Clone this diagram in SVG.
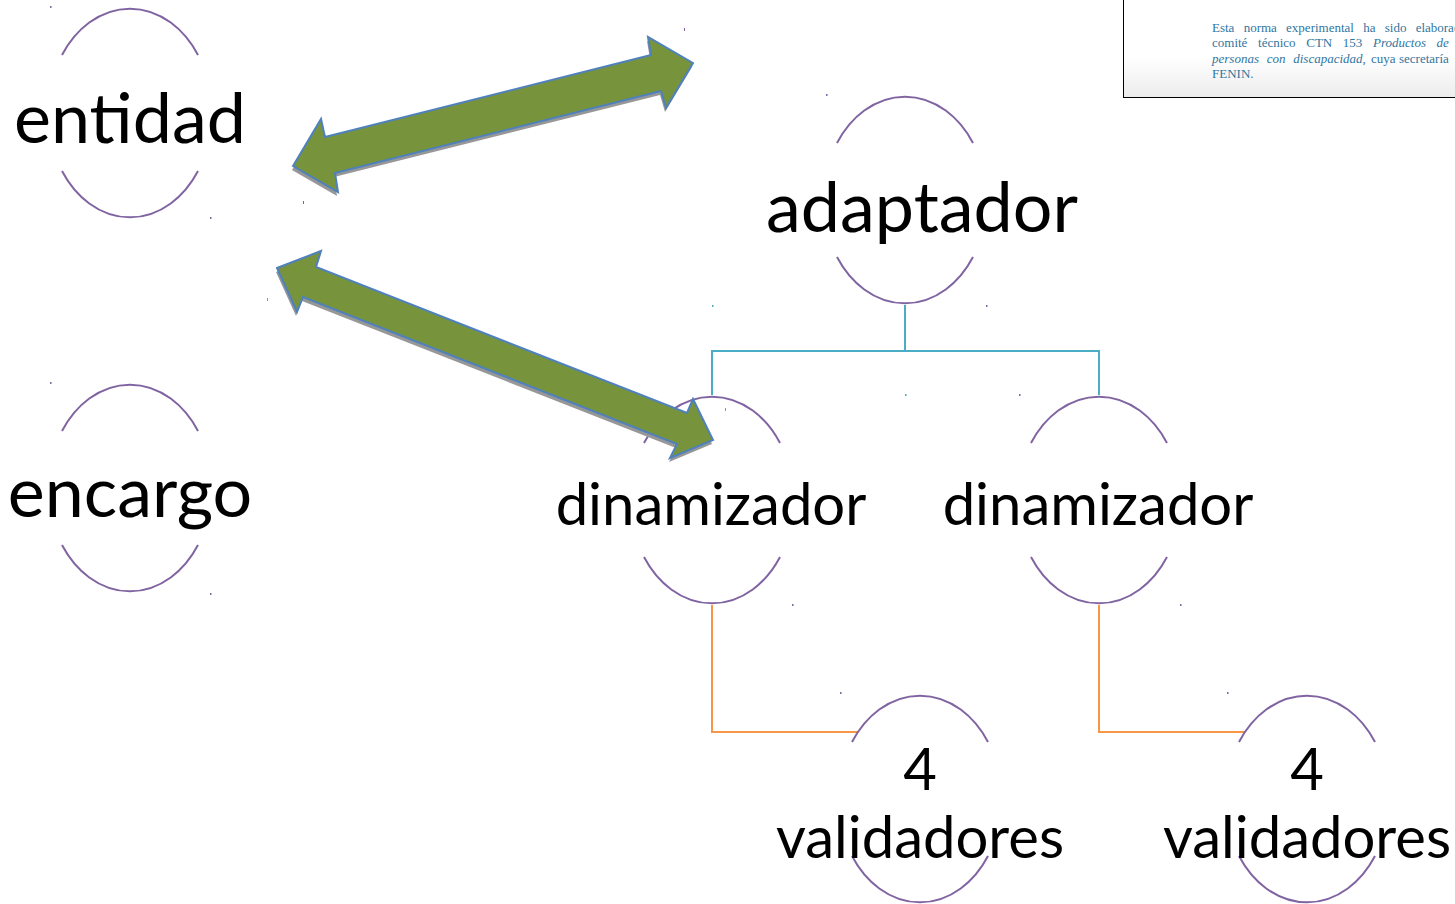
<svg xmlns="http://www.w3.org/2000/svg" width="1455" height="904" viewBox="0 0 1455 904">
  <defs>
    <style>
      .arc { fill: none; stroke: #8064a2; stroke-width: 2; }
      .lbl { font-family: Lato, "Liberation Sans", sans-serif; fill: #000; text-anchor: middle; }
      .big { font-size: 70px; }
      .mid { font-size: 58px; }
      .link-blue { fill: none; stroke: #4bacc6; stroke-width: 2; }
      .link-orange { fill: none; stroke: #f79646; stroke-width: 2; }
      .arrow { fill: #77933c; stroke: #4f81bd; stroke-width: 2; stroke-linejoin: miter; }
      .shadow { fill: #979797; }
      .note { font-family: "Liberation Serif", "DejaVu Serif", serif; font-size: 13px; fill: #30769f; }
      .speck { fill: #8064a2; }
    </style>
    <linearGradient id="noteBg" x1="0" y1="0" x2="0" y2="1">
      <stop offset="0" stop-color="#ffffff"/>
      <stop offset="0.6" stop-color="#ffffff"/>
      <stop offset="1" stop-color="#ececec"/>
    </linearGradient>
    <filter id="soft" x="-5%" y="-5%" width="110%" height="110%">
      <feGaussianBlur stdDeviation="0.6"/>
    </filter>
  </defs>

  <rect width="1455" height="904" fill="#ffffff"/>

  <!-- note box, top right (runs past the right edge) -->
  <g id="note">
    <rect x="1123.5" y="-2" width="340" height="99.5" fill="url(#noteBg)" stroke="#000" stroke-width="1"/>
    <text class="note" x="1212" y="32" word-spacing="6">Esta norma experimental ha sido elaborada</text>
    <text class="note" x="1212" y="47" word-spacing="7.4">comité técnico CTN 153 <tspan font-style="italic">Productos de</tspan></text>
    <text class="note" y="63"><tspan x="1212" font-style="italic" word-spacing="4.5">personas con discapacidad</tspan><tspan>,</tspan><tspan x="1371">cuya</tspan><tspan x="1399">secretaría</tspan></text>
    <text class="note" x="1212" y="78">FENIN.</text>
  </g>

  <!-- tree connectors -->
  <g id="connectors">
    <path class="link-blue" d="M905,305 V351 M712,395 V351 H1099 V395"/>
    <path class="link-orange" d="M712,605 V732 H858"/>
    <path class="link-orange" d="M1099,605 V732 H1245"/>
  </g>

  <!-- nodes: oval outlines split around their labels -->
  <g id="node-entidad">
    <path class="arc" d="M62,55 A82,105 0 0 1 198,55"/>
    <path class="arc" d="M62,171 A82,105 0 0 0 198,171"/>
    <text class="lbl big" x="130" y="143">entidad</text>
  </g>

  <g id="node-encargo">
    <path class="arc" d="M62,431 A82,105 0 0 1 198,431"/>
    <path class="arc" d="M62,545 A82,105 0 0 0 198,545"/>
    <text class="lbl big" x="130" y="517">encargo</text>
  </g>

  <g id="node-adaptador">
    <path class="arc" d="M837,143 A82,105 0 0 1 973,143"/>
    <path class="arc" d="M837,257 A82,105 0 0 0 973,257"/>
    <text class="lbl big" x="922" y="232">adaptador</text>
  </g>

  <g id="node-dinamizador-1">
    <path class="arc" d="M644,443 A82,105 0 0 1 780,443"/>
    <path class="arc" d="M644,557 A82,105 0 0 0 780,557"/>
    <text class="lbl mid" x="711" y="525">dinamizador</text>
  </g>

  <g id="node-dinamizador-2">
    <path class="arc" d="M1031,443 A82,105 0 0 1 1167,443"/>
    <path class="arc" d="M1031,557 A82,105 0 0 0 1167,557"/>
    <text class="lbl mid" x="1098" y="525">dinamizador</text>
  </g>

  <g id="node-validadores-1">
    <path class="arc" d="M852,742 A82,105 0 0 1 988,742"/>
    <path class="arc" d="M852,856 A82,105 0 0 0 988,856"/>
    <text class="lbl mid" x="920" y="790">4</text>
    <text class="lbl mid" x="920" y="858">validadores</text>
  </g>

  <g id="node-validadores-2">
    <path class="arc" d="M1239,742 A82,105 0 0 1 1375,742"/>
    <path class="arc" d="M1239,856 A82,105 0 0 0 1375,856"/>
    <text class="lbl mid" x="1307" y="790">4</text>
    <text class="lbl mid" x="1307" y="858">validadores</text>
  </g>

  <!-- double-headed block arrows -->
  <g id="block-arrows">
    <g id="arrow-entidad-adaptador">
      <polygon class="shadow" filter="url(#soft)" transform="translate(-1,4)" points="293,166 321,119 325,137 651,55 648,37 693,63 666,108 661,91 335,173 338,192"/>
      <polygon class="arrow" points="293,166 321,119 325,137 651,55 648,37 693,63 666,108 661,91 335,173 338,192"/>
    </g>
    <g id="arrow-entidad-dinamizador">
      <polygon class="shadow" filter="url(#soft)" transform="translate(-1,4)" points="277,268 321,251 316,267 687,413 693,399 713,440 670,458 677,444 303,297 297,312"/>
      <polygon class="arrow" points="277,268 321,251 316,267 687,413 693,399 713,440 670,458 677,444 303,297 297,312"/>
    </g>
  </g>

  <!-- small text-box anchor marks -->
  <g id="marks">
    <rect class="speck" x="50" y="6" width="1.5" height="2"/>
    <rect class="speck" x="210" y="217" width="1.5" height="2"/>
    <rect class="speck" x="303" y="201" width="1" height="3"/>
    <rect class="speck" x="684" y="28" width="1" height="3"/>
    <rect class="speck" x="826" y="94" width="1.5" height="2"/>
    <rect class="speck" x="986" y="305" width="1.5" height="2"/>
    <rect x="712" y="305" width="1.5" height="2" fill="#4bacc6"/>
    <rect x="905" y="394" width="1.5" height="2" fill="#4bacc6"/>
    <rect class="speck" x="1019" y="394" width="1.5" height="2"/>
    <rect x="267" y="298" width="1" height="3" fill="#4bacc6"/>
    <rect x="725" y="408" width="1" height="3" fill="#4bacc6"/>
    <rect class="speck" x="50" y="382" width="1.5" height="2"/>
    <rect class="speck" x="210" y="593" width="1.5" height="2"/>
    <rect class="speck" x="792" y="604" width="1.5" height="2"/>
    <rect class="speck" x="1180" y="604" width="1.5" height="2"/>
    <rect class="speck" x="840" y="692" width="1.5" height="2"/>
    <rect class="speck" x="1227" y="692" width="1.5" height="2"/>
  </g>
</svg>
